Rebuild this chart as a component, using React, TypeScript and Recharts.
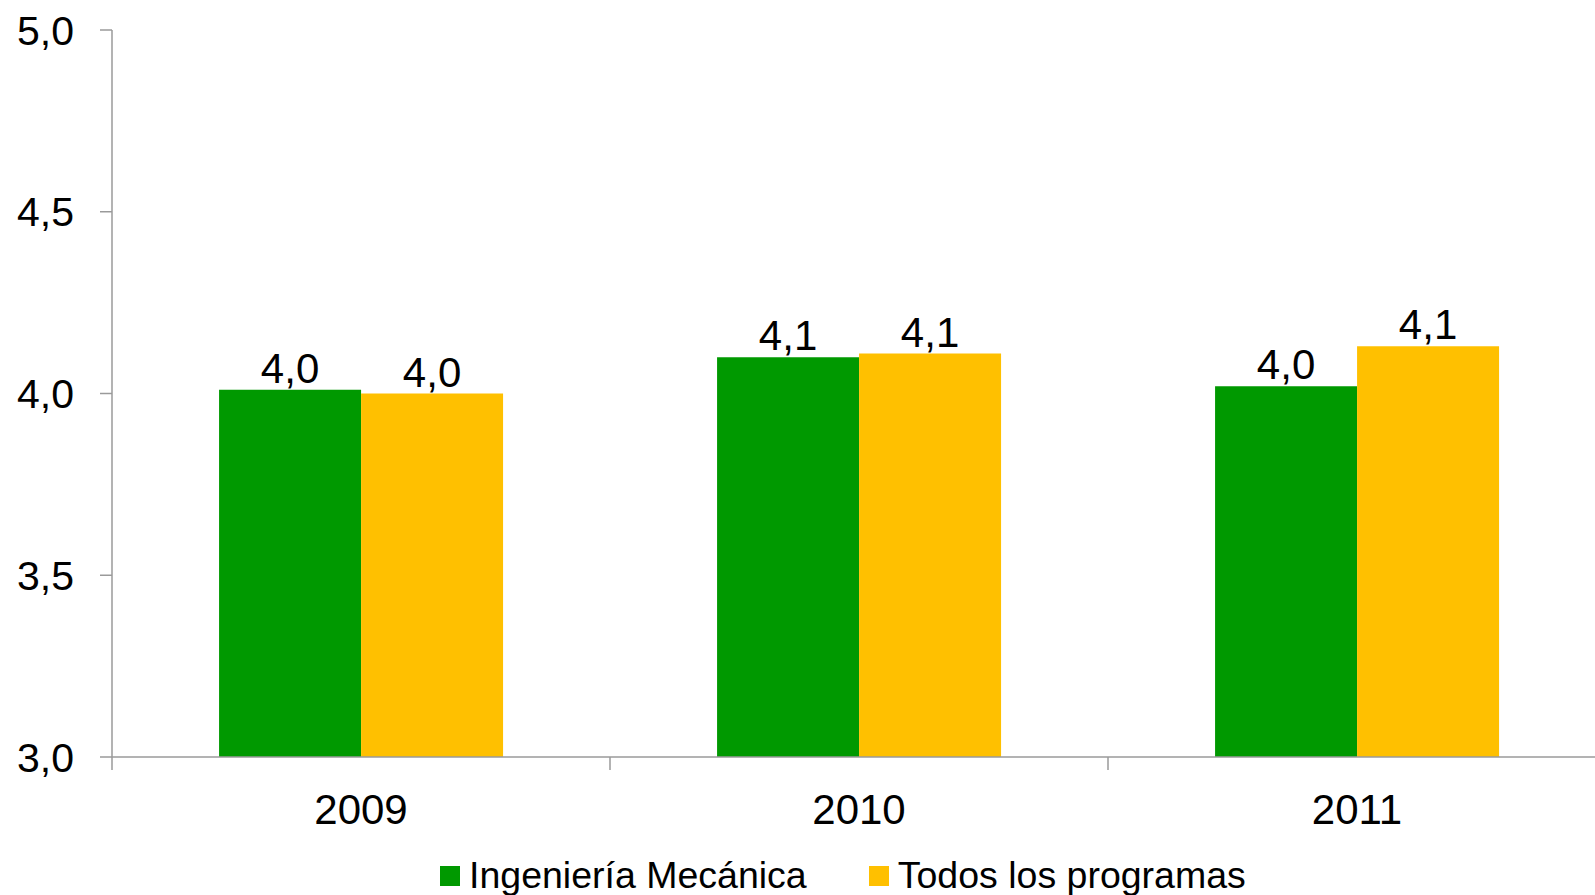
import { BarChart, Bar, XAxis, YAxis, Legend, LabelList } from "recharts";

const years = ["2009", "2010", "2011"];
const mecanica = [4.01, 4.1, 4.02];
const todos = [4.0, 4.11, 4.13];
const yTicks = [3, 3.5, 4, 4.5, 5];

const seriesNames = { mecanica: "Ingeniería Mecánica", todos: "Todos los programas" };
const GREEN = "#009900";
const YELLOW = "#FFC000";
const AXIS = "#9a9a9a";
const FONT = "'Liberation Sans', Arial, sans-serif";

const data = years.map((year, i) => ({ year, mecanica: mecanica[i], todos: todos[i] }));

const fmt = (v: number) => v.toFixed(1).replace(".", ",");

const TICK_SIZE = 13;
const TICK_MARGIN = 24;

function CategoryTick(props: any) {
  const { x, y, payload } = props;
  const half = typeof payload?.offset === "number" ? payload.offset : null;
  const axisY = y - TICK_SIZE - TICK_MARGIN;
  return (
    <g>
      {half !== null && (
        <line x1={x - half} x2={x - half} y1={axisY} y2={axisY + TICK_SIZE} stroke={AXIS} strokeWidth={1.5} />
      )}
      <text x={x} y={y} dy="0.71em" textAnchor="middle" fill="#000" fontSize={42} fontFamily={FONT}>
        {payload.value}
      </text>
    </g>
  );
}

function LegendContent(props: any) {
  const items = props.payload || [];
  return (
    <div style={{ display: "flex", alignItems: "center", fontFamily: FONT, fontSize: 37.5, lineHeight: 1 }}>
      {items.map((item: any, i: number) => (
        <div key={i} style={{ display: "flex", alignItems: "center", marginRight: 62 }}>
          <span style={{ width: 20, height: 20, background: item.color, marginRight: 9, display: "inline-block" }} />
          <span style={{ color: "#000", whiteSpace: "nowrap" }}>{item.value}</span>
        </div>
      ))}
    </div>
  );
}

export default function App() {
  return (
    <div style={{ position: "absolute", left: 0, top: 0, width: 1595, height: 895, overflow: "hidden", background: "#fff" }}>
      <BarChart
        width={1606}
        height={900}
        data={data}
        margin={{ top: 30, right: 0, bottom: 83, left: 0 }}
        barCategoryGap="21.5%"
        barGap={0}
      >
        <XAxis
          dataKey="year"
          height={60}
          axisLine={{ stroke: AXIS, strokeWidth: 1.5 }}
          tickLine={false}
          tickSize={TICK_SIZE}
          tickMargin={TICK_MARGIN}
          tick={<CategoryTick />}
        />
        <YAxis
          width={112}
          domain={[3, 5]}
          ticks={yTicks}
          allowDataOverflow
          tickFormatter={fmt}
          axisLine={{ stroke: AXIS, strokeWidth: 1.5 }}
          tickLine={{ stroke: AXIS, strokeWidth: 1.5 }}
          tickSize={12}
          tickMargin={26}
          tick={{ fill: "#000", fontSize: 41, fontFamily: FONT }}
        />
        <Legend
          layout="horizontal"
          verticalAlign="middle"
          align="center"
          content={<LegendContent />}
          wrapperStyle={{ top: 857, left: 440, width: "auto", height: "auto" }}
        />
        <Bar dataKey="mecanica" name={seriesNames.mecanica} fill={GREEN} isAnimationActive={false}>
          <LabelList dataKey="mecanica" position="top" offset={7} formatter={(v: any) => fmt(Number(v))} fill="#000" fontSize={42} fontFamily={FONT} />
        </Bar>
        <Bar dataKey="todos" name={seriesNames.todos} fill={YELLOW} isAnimationActive={false}>
          <LabelList dataKey="todos" position="top" offset={7} formatter={(v: any) => fmt(Number(v))} fill="#000" fontSize={42} fontFamily={FONT} />
        </Bar>
      </BarChart>
    </div>
  );
}
